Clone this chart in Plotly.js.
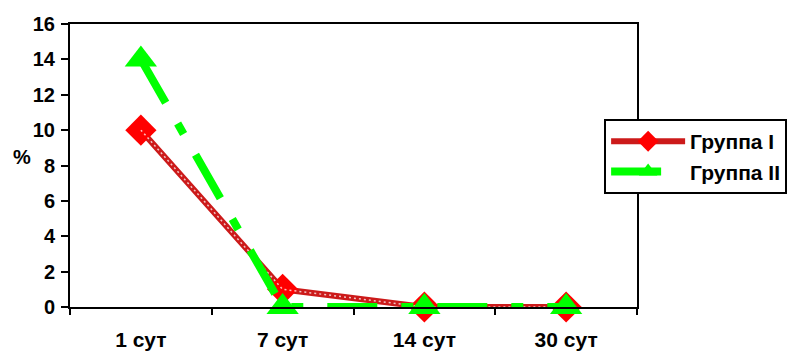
<!DOCTYPE html>
<html><head><meta charset="utf-8">
<script src="https://cdn.plot.ly/plotly-3.0.1.min.js"></script>
<style>body{margin:0;background:#fff}#c{width:801px;height:352px}</style>
</head><body><div id="c"></div>
<script>
const categories = ['1 сут', '7 сут', '14 сут', '30 сут'];
const group1 = [10, 1, 0, 0];
const group2 = [14, 0, 0, 0];
const seriesNames = ['Группа I', 'Группа II'];
const yTicks = [0, 2, 4, 6, 8, 10, 12, 14, 16];

const F = 'Liberation Sans, Arial, sans-serif';
const traces = [
  {x: categories, y: group1, name: seriesNames[0], type: 'scatter', mode: 'lines+markers', cliponaxis: false,
   line: {color: '#cc1a1a', width: 6}, marker: {symbol: 'diamond', size: 24, color: '#ff0000'}},
  {x: categories, y: group1, type: 'scatter', mode: 'lines', showlegend: false, hoverinfo: 'skip', cliponaxis: false,
   line: {color: 'rgba(255,255,255,0.75)', width: 1.5, dash: '2px,3px'}},
  {x: categories, y: group2, name: seriesNames[1], type: 'scatter', mode: 'lines+markers', cliponaxis: false,
   line: {color: '#00ff00', width: 8, dash: '50px,24px,12px,24px'},
   marker: {symbol: 'triangle-up', size: 28, color: '#00ff00'}}
];
const layout = {
  width: 801, height: 352,
  margin: {l: 70, r: 164, t: 24, b: 45},
  paper_bgcolor: '#fff', plot_bgcolor: '#fff',
  showlegend: true,
  font: {family: F, size: 20, color: '#000', weight: 'bold'},
  xaxis: {type: 'category', range: [-0.5, 3.5], showline: true, linecolor: '#000', linewidth: 2,
    mirror: true, ticks: 'outside', tickson: 'boundaries', ticklen: 6, tickwidth: 2, tickcolor: '#000',
    showgrid: false, zeroline: false, ticklabelstandoff: 13,
    tickfont: {family: F, size: 21, weight: 'bold'}},
  yaxis: {range: [0, 16], tickvals: yTicks, showline: true, linecolor: '#000', linewidth: 2,
    mirror: true, ticks: 'outside', ticklen: 7, tickwidth: 2, tickcolor: '#000',
    showgrid: false, zeroline: false, ticklabelstandoff: 2,
    tickfont: {family: F, size: 20, weight: 'bold'}},
  legend: {x: 0.942, y: 0.664, xanchor: 'left', yanchor: 'top', bgcolor: '#fff',
    bordercolor: '#000', borderwidth: 2, itemwidth: 74,
    font: {family: F, size: 21, weight: 'bold'}, tracegroupgap: 4},
  annotations: [{text: '%', xref: 'paper', yref: 'paper', x: -0.085, y: 0.53, showarrow: false,
    xanchor: 'center', yanchor: 'middle', font: {family: F, size: 20, weight: 'bold'}}]
};
Plotly.newPlot('c', traces, layout, {displayModeBar: false});
</script></body></html>
